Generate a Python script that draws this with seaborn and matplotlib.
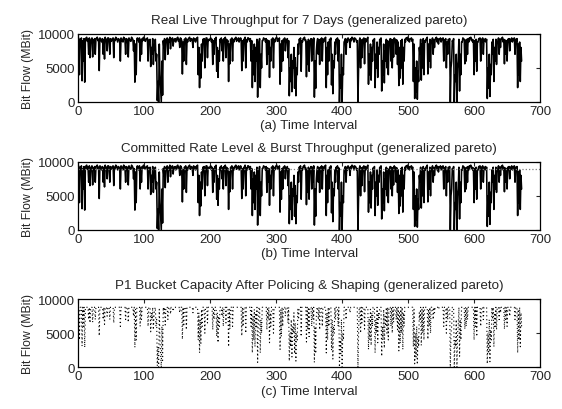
import numpy as np
import pandas as pd
import seaborn as sns
import matplotlib
matplotlib.use("Agg")
import matplotlib.pyplot as plt

# Throughput, in units of 100 MBit.
# even_h: intervals 0, 2, 4, ... 672   odd_h: intervals 1, 3, 5, ... 671
even_h = [
    95, 40, 88, 31, 60,  29, 94, 89, 70, 65,  92, 66, 88, 70, 94,  90, 46, 93, 88, 70,
    63, 90, 75, 94, 70,  89, 93, 65, 90, 94,  88, 92, 60, 90, 88,  94, 70, 88, 66, 92,
    89, 93, 75, 29, 40,  94, 88, 60, 70, 90,  93, 89, 92, 60, 88,  52, 70, 55, 85, 60,
    2, 0, 40, 0, 10,     80, 62, 90, 70, 88,  78, 93, 82, 90, 88,  94, 89, 80, 93, 41,
    60, 90, 55, 88, 94,  89, 93, 80, 90, 88,  94, 40, 21, 35, 60,  88, 50, 94, 65, 90,
    93, 88, 55, 70, 90,  45, 36, 60, 88, 75,  60, 90, 65, 88, 30,  56, 90, 60, 88, 93,
    89, 92, 88, 94, 46,  60, 90, 50, 88, 94,  89, 60, 21, 40, 30,  60, 7, 88, 21, 50,
    90, 93, 88, 55, 70,  36, 60, 90, 50, 88,  94, 89, 90, 26, 45,  60, 90, 75, 88, 65,
    9, 30, 15, 50, 20,   9, 40, 70, 90, 45,   88, 93, 90, 37, 55,  45, 88, 60, 70, 7,
    20, 88, 70, 55, 90,  60, 88, 93, 21, 40,  60, 90, 25, 12, 50,  70, 88, 60, 0, 20,
    0, 40, 90, 70, 88,   92, 80, 90, 94, 88,  93, 88, 0, 90, 50,   65, 90, 56, 88, 93,
    26, 40, 32, 60, 88,  21, 50, 36, 70, 88,  16, 40, 28, 60, 50,  40, 88, 60, 50, 66,
    90, 70, 55, 24, 35,  50, 26, 60, 88, 93,  90, 88, 93, 89, 30,  5, 15, 4, 30, 70,
    32, 50, 40, 88, 93,  41, 60, 50, 88, 70,  80, 94, 88, 85, 92,  88, 93, 60, 90, 50,
    70, 88, 0, 60, 88,   0, 30, 0, 60, 16,    40, 88, 93, 56, 60,  70, 88, 93, 90, 88,
    40, 60, 45, 88, 93,  60, 88, 70, 90, 88,  5, 20, 8, 40, 70,    30, 60, 55, 88, 70,
    80, 93, 88, 56, 70,  60, 88, 75, 90, 88,  93, 70, 88, 21, 40,  30, 60,
]
odd_h = [
    93, 92, 94, 90, 93, 91, 95, 92, 94, 90, 94, 91, 93, 92, 95, 92, 94, 90, 93, 91,
    95, 92, 94, 91, 93, 90, 94, 92, 95, 91, 93, 90, 94, 92, 95, 91, 93, 92, 94, 90,
    95, 92, 90, 85, 93, 92, 94, 91, 93, 95, 90, 93, 94, 91, 92, 80, 93, 75, 92, 70,
    30, 85, 20, 60, 90, 93, 91, 94, 92, 95, 90, 94, 92, 93, 91, 95, 92, 94, 90, 88,
    92, 94, 91, 93, 95, 92, 90, 94, 93, 91, 95, 80, 70, 85, 92, 93, 90, 94, 92, 91,
    94, 92, 90, 93, 95, 80, 75, 92, 94, 91, 93, 95, 92, 90, 85, 92, 94, 91, 93, 95,
    91, 94, 92, 93, 90, 92, 95, 91, 94, 92, 93, 90, 75, 85, 80, 92, 60, 93, 70, 90,
    94, 92, 93, 91, 90, 80, 92, 94, 91, 93, 95, 92, 94, 85, 90, 92, 94, 91, 93, 90,
    50, 70, 60, 80, 65, 50, 85, 92, 94, 90, 93, 95, 91, 88, 92, 90, 93, 92, 94, 60,
    75, 93, 91, 92, 94, 92, 93, 95, 80, 88, 92, 94, 70, 60, 88, 92, 94, 91, 40, 70,
    50, 88, 93, 92, 94, 91, 93, 95, 92, 94, 92, 90, 50, 94, 91, 92, 94, 93, 92, 95,
    70, 85, 80, 91, 93, 70, 88, 80, 92, 94, 60, 85, 75, 92, 90, 88, 93, 92, 91, 94,
    92, 91, 88, 80, 90, 92, 80, 92, 94, 95, 93, 92, 94, 92, 85, 50, 60, 45, 80, 92,
    85, 93, 90, 92, 95, 85, 92, 90, 94, 91, 92, 95, 93, 92, 94, 92, 94, 91, 93, 88,
    92, 93, 50, 90, 93, 40, 70, 50, 92, 70, 88, 94, 92, 91, 92, 93, 94, 95, 92, 91,
    90, 92, 88, 93, 94, 92, 94, 91, 93, 92, 50, 70, 55, 88, 92, 80, 92, 88, 94, 92,
    93, 95, 92, 91, 90, 92, 93, 92, 94, 91, 94, 92, 93, 85, 88, 80,
]
committed_rate = 9000   # dotted level in panel (b)
police_cap = 8800       # upper level of the bucket capacity in panel (c)

titles = [
    "Real Live Throughput for 7 Days (generalized pareto)",
    "Committed Rate Level & Burst Throughput (generalized pareto)",
    "P1 Bucket Capacity After Policing & Shaping (generalized pareto)",
]
xlabels = ["(a) Time Interval", "(b) Time Interval", "(c) Time Interval"]
xticks = [0, 100, 200, 300, 400, 500, 600, 700]
yticks = [0, 5000, 10000]

flow = np.zeros(len(even_h) + len(odd_h))
flow[0::2] = even_h
flow[1::2] = odd_h
flow = flow * 100
df = pd.DataFrame({"interval": np.arange(len(flow)),
                   "throughput": flow,
                   "bucket": np.minimum(flow, police_cap)})

sns.set_style("white")
plt.rcParams["font.family"] = ["Liberation Sans", "DejaVu Sans"]

fig = plt.figure(figsize=(5.62, 4.10), dpi=100)
# [left, bottom, width, height] in figure fractions
boxes = [[0.139, 0.749, 0.822, 0.166],
         [0.139, 0.437, 0.822, 0.166],
         [0.139, 0.102, 0.822, 0.166]]
axes = [fig.add_axes(b) for b in boxes]

sns.lineplot(data=df, x="interval", y="throughput", ax=axes[0],
             color="black", linewidth=1.15, estimator=None)
sns.lineplot(data=df, x="interval", y="throughput", ax=axes[1],
             color="black", linewidth=1.15, estimator=None)
axes[1].axhline(committed_rate, color="0.5", linestyle=":", linewidth=0.9)
sns.lineplot(data=df, x="interval", y="bucket", ax=axes[2],
             color="black", linewidth=0.8, linestyle=(0, (1, 2.5)), estimator=None)

for ax, title, xl in zip(axes, titles, xlabels):
    ax.set_xlim(0, 700)
    ax.set_ylim(0, 10000)
    ax.set_xticks(xticks)
    ax.set_yticks(yticks)
    ax.tick_params(direction="in", length=3, width=0.8, labelsize=9.5,
                   top=True, right=True, pad=2)
    for s in ax.spines.values():
        s.set_color("black")
        s.set_linewidth(0.9)
    ax.set_title(title, fontsize=9.6, pad=8)
    ax.set_xlabel(xl, fontsize=9.6, labelpad=2)
    ax.set_ylabel("Bit Flow (MBit)", fontsize=8.8, labelpad=3)

fig.savefig("out.png", dpi=100)
